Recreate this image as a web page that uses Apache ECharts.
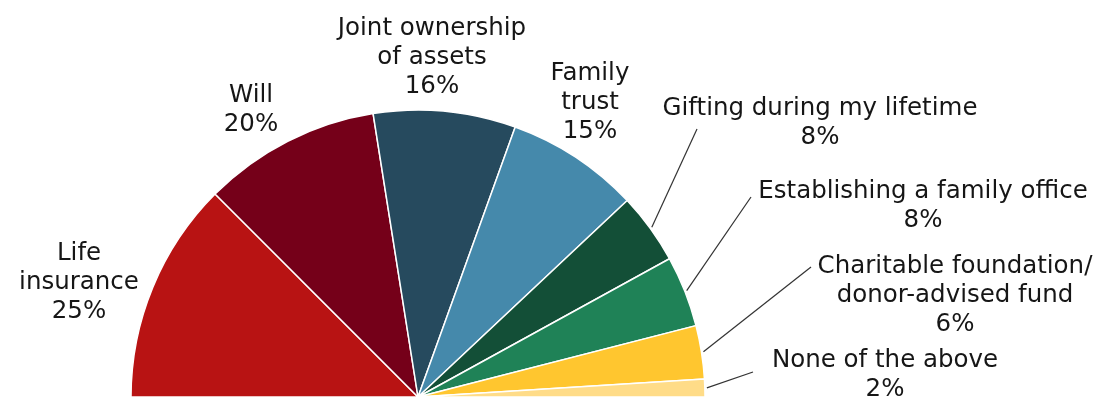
<!DOCTYPE html>
<html>
<head>
<meta charset="utf-8">
<style>
  html, body { margin: 0; padding: 0; background: #ffffff; }
  #chart { width: 1104px; height: 399px; }
</style>
<script src="https://cdn.jsdelivr.net/npm/echarts@6/dist/echarts.min.js"></script>
</head>
<body>
<div id="chart"></div>
<script>
// Estate-planning tools in use (share of respondents, %)
const categories = [
  'Life\ninsurance',
  'Will',
  'Joint ownership\nof assets',
  'Family\ntrust',
  'Gifting during my lifetime',
  'Establishing a family office',
  'Charitable foundation/\ndonor-advised fund',
  'None of the above'
];
const shares = [25, 20, 16, 15, 8, 8, 6, 2];

const sliceColors = ['#b81313', '#750019', '#264a5e', '#4589ab', '#134f37', '#1f8257', '#ffc62f', '#ffdc88'];

// Geometry of the half pie
const PIE_CX = 418, PIE_CY = 397, PIE_R = 287;

// Label block centres and, for the small slices, where the leader line ends
const labelPlacement = [
  { x: 79,  y: 283 },
  { x: 251, y: 110 },
  { x: 432, y: 58 },
  { x: 590, y: 103 },
  { x: 820, y: 123, lineEnd: [697, 129] },
  { x: 923, y: 206, lineEnd: [751, 197] },
  { x: 955, y: 296, lineEnd: [811, 267] },
  { x: 885, y: 375, lineEnd: [753, 372] }
];

const total = shares.reduce((a, b) => a + b, 0);
const midAngles = [];
let acc = 0;
shares.forEach(v => {
  midAngles.push(Math.PI - Math.PI * (acc + v / 2) / total);
  acc += v;
});

const pieData = categories.map((name, i) => ({
  name: name,
  value: shares[i],
  itemStyle: { color: sliceColors[i] },
  labelLine: { show: !!labelPlacement[i].lineEnd }
}));

const chart = echarts.init(document.getElementById('chart'), null, { renderer: 'canvas' });

chart.setOption({
  backgroundColor: '#ffffff',
  animation: false,
  series: [{
    type: 'pie',
    center: [PIE_CX, PIE_CY],
    radius: [0, PIE_R],
    startAngle: 180,
    endAngle: 0,
    clockwise: true,
    avoidLabelOverlap: false,
    itemStyle: { borderColor: '#ffffff', borderWidth: 1.5 },
    label: {
      show: true,
      position: 'outside',
      formatter: p => p.name + '\n' + p.value + '%',
      fontFamily: 'DejaVu Sans',
      fontSize: 24.5,
      lineHeight: 29,
      color: '#161616',
      align: 'center'
    },
    labelLine: {
      show: true,
      length: 10,
      length2: 10,
      lineStyle: { color: '#333333', width: 1.2 }
    },
    labelLayout: function (params) {
      const i = params.dataIndex;
      const place = labelPlacement[i];
      const out = { x: place.x, y: place.y, align: 'center', verticalAlign: 'middle' };
      if (place.lineEnd) {
        const a = midAngles[i];
        const start = [PIE_CX + (PIE_R + 2) * Math.cos(a), PIE_CY - (PIE_R + 2) * Math.sin(a)];
        out.labelLinePoints = [start, place.lineEnd];
      }
      return out;
    },
    emphasis: { disabled: true },
    data: pieData
  }]
});
</script>
</body>
</html>
